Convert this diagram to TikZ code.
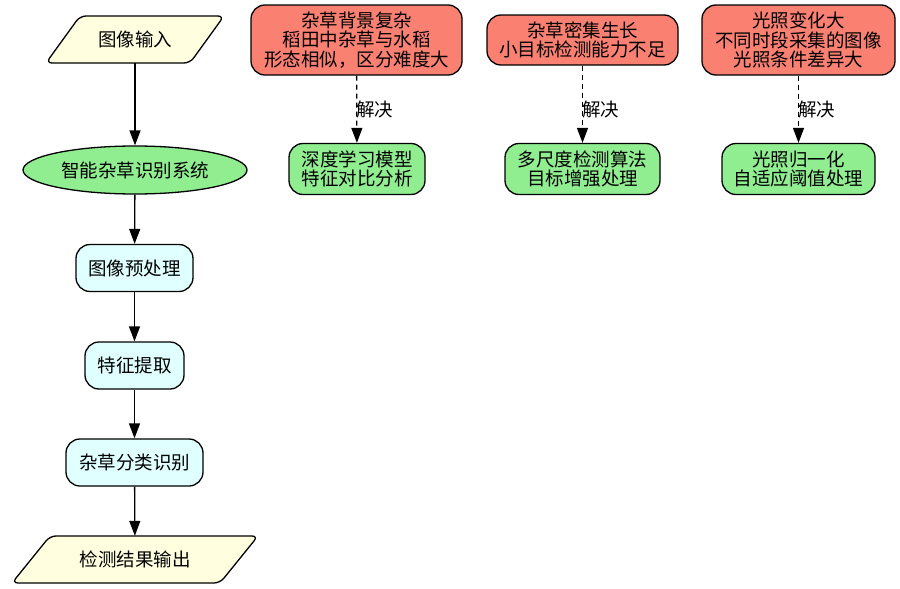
\documentclass[tikz,border=0pt]{standalone}
\usepackage{fontspec}
\setmainfont{Noto Sans CJK SC}
\usetikzlibrary{shapes.geometric,arrows.meta}
\definecolor{salmonred}{HTML}{FA8072}
\definecolor{lgreen}{HTML}{90EE90}
\definecolor{lcyan}{HTML}{E0FFFF}
\definecolor{lyellow}{HTML}{FFFFE0}
\tikzset{
  base/.style={font=\fontsize{18.5}{19.5}\selectfont, align=center, inner sep=0pt},
  ln/.style={line width=1.3pt},
  box/.style={base, ln, draw=black, rounded corners=14pt, minimum height=47pt},
  stepbox/.style={box, fill=lcyan},
  probbox/.style={box, fill=salmonred},
  solbox/.style={box, fill=lgreen, minimum height=51pt},
  sysnode/.style={base, ln, draw=black, ellipse, fill=lgreen, minimum width=224pt, minimum height=48pt},
  io/.style={ln, draw=black, fill=lyellow, rounded corners=6pt},
  arrowtip/.style={-{Triangle[length=15pt,width=11pt]}},
  flow/.style={ln, arrowtip},
  solve/.style={ln, dash pattern=on 5pt off 4pt, arrowtip},
  lbl/.style={base, right, inner sep=0pt, xshift=-1pt}
}
\begin{document}
\begin{tikzpicture}[x=1pt,y=-1pt]
\useasboundingbox (0,0) rectangle (900,589);
% input parallelogram
\filldraw[io] (46,63) -- (80,16) -- (224,16) -- (190,63) -- cycle;
\node[base, minimum width=140pt, minimum height=47pt] (in) at (135,39.5) {图像输入};
\node[sysnode] (sys) at (135,170) {智能杂草识别系统};
\node[stepbox, minimum width=117pt] (pre) at (134.5,268) {图像预处理};
\node[stepbox, minimum width=99pt] (feat) at (134.5,365.5) {特征提取};
\node[stepbox, minimum width=137pt] (cls) at (134.5,462.5) {杂草分类识别};
% output parallelogram
\filldraw[io] (12,583) -- (50,536) -- (258,536) -- (220,583) -- cycle;
\node[base, minimum width=200pt, minimum height=47pt] (out) at (135,559.5) {检测结果输出};

\draw[flow] (in) -- (sys);
\draw[flow] (sys) -- (pre);
\draw[flow] (pre) -- (feat);
\draw[flow] (feat) -- (cls);
\draw[flow] (cls) -- (out);

% problems and solutions
\node[probbox, minimum width=211pt, minimum height=70pt] (p1) at (356.5,40) {杂草背景复杂\\稻田中杂草与水稻\\形态相似，区分难度大};
\node[solbox, minimum width=136pt] (s1) at (357,169) {深度学习模型\\特征对比分析};
\node[probbox, minimum width=191pt, minimum height=50pt] (p2) at (582.5,40) {杂草密集生长\\小目标检测能力不足};
\node[solbox, minimum width=155pt] (s2) at (582.5,169) {多尺度检测算法\\目标增强处理};
\node[probbox, minimum width=193pt, minimum height=70pt] (p3) at (798.5,40) {光照变化大\\不同时段采集的图像\\光照条件差异大};
\node[solbox, minimum width=153pt] (s3) at (798.5,169) {光照归一化\\自适应阈值处理};

\draw[solve] (p1) -- node[lbl] (l1) {解决} (s1);
\draw[solve] (p2) -- node[lbl, pos=0.57] (l2) {解决} (s2);
\draw[solve] (p3) -- node[lbl] (l3) {解决} (s3);
\end{tikzpicture}
\end{document}
